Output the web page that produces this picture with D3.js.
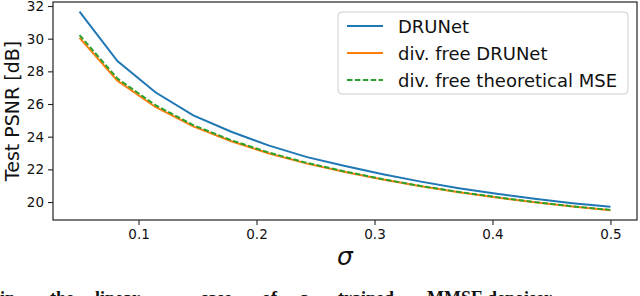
<!DOCTYPE html>
<html>
<head>
<meta charset="utf-8">
<script src="https://cdn.jsdelivr.net/npm/d3@7"></script>
<style>
  body { margin: 0; background: #fff; }
  svg { display: block; font-family: "DejaVu Sans", sans-serif; }
</style>
</head>
<body>
<svg id="chart" width="640" height="296"></svg>
<script>
// noise levels (15 evenly spaced sigmas)
const sigmas = [0.05, 0.0821, 0.1143, 0.1464, 0.1786, 0.2107, 0.2429, 0.275,
                0.3071, 0.3393, 0.3714, 0.4036, 0.4357, 0.4679, 0.5];
const drunet = [31.65, 28.63, 26.72, 25.3, 24.3, 23.45, 22.75, 22.2,
                21.7, 21.25, 20.85, 20.5, 20.2, 19.93, 19.71];
const divFree = [30.05, 27.43, 25.82, 24.63, 23.72, 22.97, 22.35, 21.84,
                 21.38, 20.96, 20.6, 20.28, 19.98, 19.72, 19.5];
const divFreeMse = [30.22, 27.56, 25.93, 24.71, 23.78, 23.02, 22.39, 21.87,
                    21.4, 20.98, 20.62, 20.3, 20.0, 19.74, 19.52];
const xTicks = [0.1, 0.2, 0.3, 0.4, 0.5];
const yTicks = [20, 22, 24, 26, 28, 30, 32];
const seriesNames = ["DRUNet", "div. free DRUNet", "div. free theoretical MSE"];
const seriesColors = ["#1f77b4", "#ff7f0e", "#2ca02c"];

const svg = d3.select("#chart");
const plotLeft = 53, plotRight = 637, plotTop = 2, plotBottom = 220;

const x = d3.scaleLinear().domain([0.0275, 0.5225]).range([plotLeft, plotRight]);
const y = d3.scaleLinear().domain([18.9, 32.245]).range([plotBottom, plotTop]);

// axes
const xAxis = svg.append("g")
    .attr("transform", `translate(0,${plotBottom})`)
    .call(d3.axisBottom(x).tickValues(xTicks).tickFormat(d3.format(".1f"))
        .tickSize(5).tickPadding(4));
const yAxis = svg.append("g")
    .attr("transform", `translate(${plotLeft},0)`)
    .call(d3.axisLeft(y).tickValues(yTicks).tickFormat(d3.format("d"))
        .tickSize(5).tickPadding(4));

[xAxis, yAxis].forEach(g => {
    g.select(".domain").remove();
    g.selectAll(".tick line").attr("stroke", "#222").attr("stroke-width", 1.1);
    g.selectAll(".tick text")
        .attr("fill", "#111")
        .style("font-family", "DejaVu Sans")
        .style("font-size", "13.5px");
});

// lines
const line = d3.line().x((d, i) => x(sigmas[i])).y(d => y(d));
const allSeries = [drunet, divFree, divFreeMse];

allSeries.forEach((vals, k) => {
    svg.append("path")
        .datum(vals)
        .attr("d", line)
        .attr("fill", "none")
        .attr("stroke", seriesColors[k])
        .attr("stroke-width", 2)
        .attr("stroke-dasharray", k === 2 ? "5.5,2.4" : null);
});

// frame
svg.append("rect")
    .attr("x", plotLeft).attr("y", plotTop)
    .attr("width", plotRight - plotLeft).attr("height", plotBottom - plotTop)
    .attr("fill", "none")
    .attr("stroke", "#222")
    .attr("stroke-width", 1.2);

// axis labels
svg.append("text")
    .attr("x", (plotLeft + plotRight) / 2)
    .attr("y", 265)
    .attr("text-anchor", "middle")
    .style("font-size", "25px")
    .style("font-style", "italic")
    .attr("fill", "#111")
    .text("σ");

svg.append("text")
    .attr("transform", `translate(19,${(plotTop + plotBottom) / 2}) rotate(-90)`)
    .attr("text-anchor", "middle")
    .style("font-size", "19px")
    .attr("fill", "#111")
    .text("Test PSNR [dB]");

// legend
const legend = svg.append("g");
legend.append("rect")
    .attr("x", 338).attr("y", 12)
    .attr("width", 290).attr("height", 82)
    .attr("rx", 4)
    .attr("fill", "#fff").attr("fill-opacity", 0.8)
    .attr("stroke", "#ccc").attr("stroke-width", 1);

seriesNames.forEach((name, k) => {
    const ry = 26 + k * 27;
    legend.append("line")
        .attr("x1", 347).attr("x2", 383)
        .attr("y1", ry).attr("y2", ry)
        .attr("stroke", seriesColors[k])
        .attr("stroke-width", 2)
        .attr("stroke-dasharray", k === 2 ? "5.5,2.4" : null);
    legend.append("text")
        .attr("x", 398).attr("y", ry)
        .attr("dominant-baseline", "central")
        .style("font-size", "18px")
        .attr("fill", "#111")
        .text(name);
});

// caption cut off at the bottom edge (only the tops of letters show)
svg.append("text")
    .attr("y", 303.5)
    .style("font-family", "Liberation Serif")
    .style("font-weight", "bold")
    .style("font-size", "18px")
    .attr("fill", "#111")
    .selectAll("tspan")
    .data([["in", 0], ["the", 50], ["linear", 95], ["case", 200], ["of", 262],
           ["a", 300], ["trained", 338], ["MMSE", 427], ["denoiser", 487]])
    .join("tspan")
    .attr("x", d => d[1])
    .text(d => d[0]);
</script>
</body>
</html>
